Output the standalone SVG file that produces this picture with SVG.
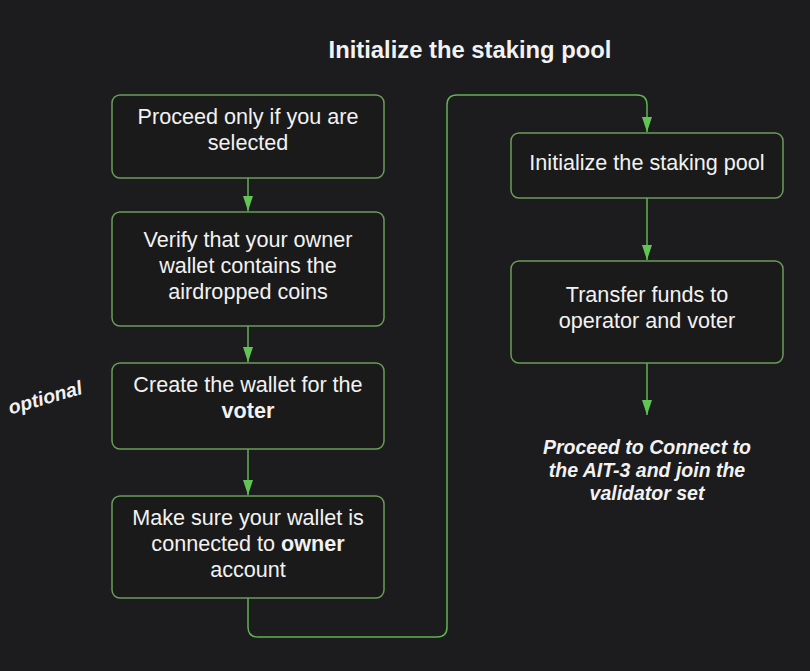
<svg xmlns="http://www.w3.org/2000/svg" width="810" height="671" viewBox="0 0 810 671">
<defs>
<style>
.box{fill:#1a1a1b;stroke:#6a9d5a;stroke-width:1.5}
.t{font-family:"Liberation Sans",Arial,sans-serif;font-size:21.6px;fill:#f2f2f2;text-anchor:middle}
.b{font-weight:bold}
.conn{fill:none;stroke:#5fb552;stroke-width:1.5}
.bi{font-family:"Liberation Sans",Arial,sans-serif;font-size:19.5px;font-weight:bold;font-style:italic;fill:#f2f2f2;text-anchor:middle}
.ah{fill:#62c455}
</style>
</defs>
<rect width="810" height="671" fill="#1c1b1d"/>
<text x="470" y="58" class="t b" style="font-size:23.8px">Initialize the staking pool</text>
<g id="connectors">
<line class="conn" x1="248" y1="178" x2="248" y2="211"/>
<path class="ah" d="M243,196 L253,196 L248,211 Z"/>
<line class="conn" x1="248" y1="326" x2="248" y2="362"/>
<path class="ah" d="M243,347 L253,347 L248,362 Z"/>
<line class="conn" x1="248" y1="449" x2="248" y2="495"/>
<path class="ah" d="M243,480 L253,480 L248,495 Z"/>
<path class="conn" d="M248,598 L248,627 Q248,637 258,637 L437,637 Q447,637 447,627 L447,105 Q447,95 457,95 L637,95 Q647,95 647,105 L647,132"/>
<path class="ah" d="M642,117 L652,117 L647,132 Z"/>
<line class="conn" x1="647" y1="198" x2="647" y2="260"/>
<path class="ah" d="M642,245 L652,245 L647,260 Z"/>
<line class="conn" x1="647" y1="363" x2="647" y2="415"/>
<path class="ah" d="M642,400 L652,400 L647,415 Z"/>
</g>
<g id="n1">
<rect class="box" x="112" y="95" width="272" height="83" rx="8"/>
<text class="t" x="248" y="124">Proceed only if you are</text>
<text class="t" x="248" y="150">selected</text>
</g>
<g id="n2">
<rect class="box" x="112" y="212" width="272" height="114" rx="8"/>
<text class="t" x="248" y="247">Verify that your owner</text>
<text class="t" x="248" y="273">wallet contains the</text>
<text class="t" x="248" y="299">airdropped coins</text>
</g>
<g id="n3">
<rect class="box" x="112" y="363" width="272" height="86" rx="8"/>
<text class="t" x="248" y="392">Create the wallet for the</text>
<text class="t b" x="248" y="418">voter</text>
</g>
<g id="n4">
<rect class="box" x="112" y="496" width="272" height="102" rx="8"/>
<text class="t" x="248" y="525">Make sure your wallet is</text>
<text class="t" x="248" y="551">connected to <tspan class="b">owner</tspan></text>
<text class="t" x="248" y="577">account</text>
</g>
<g id="n5">
<rect class="box" x="511" y="133" width="272" height="65" rx="8"/>
<text class="t" x="647" y="170">Initialize the staking pool</text>
</g>
<g id="n6">
<rect class="box" x="511" y="261" width="272" height="102" rx="8"/>
<text class="t" x="647" y="302">Transfer funds to</text>
<text class="t" x="647" y="328">operator and voter</text>
</g>
<g id="n7">
<text class="bi" x="647" y="454">Proceed to Connect to</text>
<text class="bi" x="647" y="477">the AIT-3 and join the</text>
<text class="bi" x="647" y="500">validator set</text>
</g>
<g id="optional">
<text class="bi" x="0" y="0" transform="translate(47,404) rotate(-16)">optional</text>
</g>
</svg>
